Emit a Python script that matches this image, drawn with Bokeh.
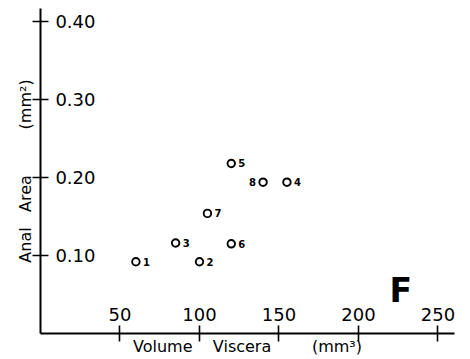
from bokeh.plotting import figure
from bokeh.models import FixedTicker, Label, ColumnDataSource, Range1d
from bokeh.core.properties import value
from bokeh.embed import file_html
from bokeh.resources import INLINE

# ---- data ----
specimen = ["1", "2", "3", "4", "5", "6", "7", "8"]
viscera_volume = [60, 100, 85, 155, 120, 120, 105, 140]
anal_area = [0.092, 0.092, 0.116, 0.194, 0.218, 0.115, 0.154, 0.194]
labels_on_left = ["8"]

x_ticks = [50, 100, 150, 200, 250]
x_tick_labels = ["50", "100", "150", "200", "250"]
y_ticks = [0.10, 0.20, 0.30, 0.40]
y_tick_labels = ["0.10", "0.20", "0.30", "0.40"]

x_title = "Volume" + "\u00a0" * 4 + "Viscera" + "\u00a0" * 8 + "(mm³)"
y_title = "Anal" + "\u00a0" * 3 + "Area" + "\u00a0" * 9 + "(mm²)"
panel_letter = "F"

FONT = "DejaVu Sans"

p = figure(width=470, height=359,
           x_range=Range1d(0, 260.4), y_range=Range1d(0, 0.4167),
           output_backend="svg", toolbar_location=None,
           min_border_left=40, min_border_right=16,
           min_border_top=8, min_border_bottom=26)
p.outline_line_color = None
p.xgrid.grid_line_color = None
p.ygrid.grid_line_color = None
p.background_fill_color = "white"
p.border_fill_color = "white"

for ax, ticks, labs in ((p.xaxis[0], x_ticks, x_tick_labels),
                        (p.yaxis[0], y_ticks, y_tick_labels)):
    ax.ticker = FixedTicker(ticks=ticks)
    ax.major_label_overrides = dict(zip(ticks, labs))
    ax.axis_line_color = "black"
    ax.axis_line_width = 2
    ax.major_tick_line_color = "black"
    ax.major_tick_line_width = 1.6
    ax.major_tick_in = 8
    ax.major_tick_out = 8
    ax.minor_tick_line_color = None
    ax.major_label_text_font = FONT
    ax.major_label_text_font_size = "18px"
    ax.major_label_text_color = "black"
    ax.axis_label_text_font = FONT
    ax.axis_label_text_font_style = "normal"
    ax.axis_label_text_color = "black"

p.xaxis.major_label_standoff = -34
p.yaxis.major_label_standoff = -63

p.xaxis.axis_label = x_title
p.xaxis.axis_label_text_font_size = "16px"
p.xaxis.axis_label_standoff = 13
p.yaxis.axis_label = y_title
p.yaxis.axis_label_text_font_size = "16px"
p.yaxis.axis_label_standoff = 17

# points
right_idx = [i for i, s in enumerate(specimen) if s not in labels_on_left]
left_idx = [i for i, s in enumerate(specimen) if s in labels_on_left]

p.scatter(viscera_volume, anal_area, marker="circle", size=7.5,
          fill_color=None, line_color="black", line_width=1.9)

src_r = ColumnDataSource(dict(x=[viscera_volume[i] for i in right_idx],
                              y=[anal_area[i] for i in right_idx],
                              t=[specimen[i] for i in right_idx]))
src_l = ColumnDataSource(dict(x=[viscera_volume[i] for i in left_idx],
                              y=[anal_area[i] for i in left_idx],
                              t=[specimen[i] for i in left_idx]))
p.text(x="x", y="y", text="t", source=src_r, x_offset=7,
       text_align="left", text_baseline="middle",
       text_font=value(FONT), text_font_size="10px", text_font_style="bold",
       text_color="black")
p.text(x="x", y="y", text="t", source=src_l, x_offset=-7,
       text_align="right", text_baseline="middle",
       text_font=value(FONT), text_font_size="10px", text_font_style="bold",
       text_color="black")

# panel letter
p.add_layout(Label(x=219.5, y=0.0551, text=panel_letter, text_align="left",
                   text_baseline="alphabetic", text_font=FONT,
                   text_font_size="33px", text_font_style="bold",
                   text_color="black"))

open("out.html", "w").write(file_html(p, INLINE))
